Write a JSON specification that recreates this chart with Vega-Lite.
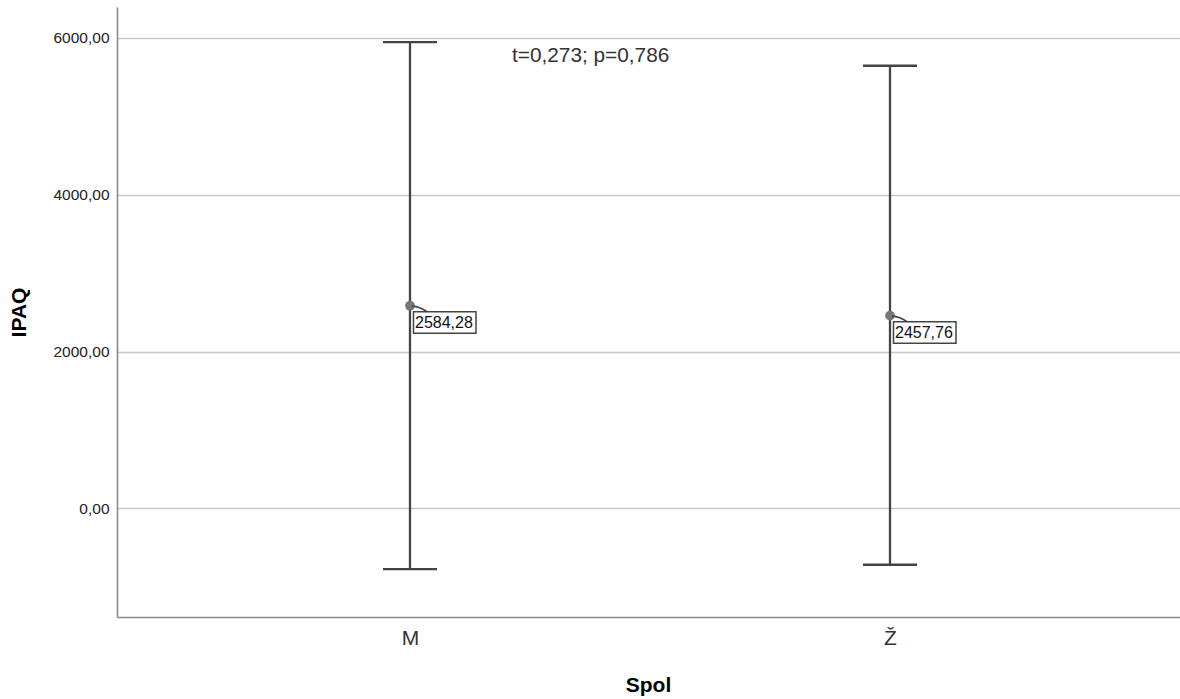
{
  "$schema": "https://vega.github.io/schema/vega-lite/v6.json",
  "width": 1066,
  "height": 610,
  "autosize": {"type": "none"},
  "padding": {"left": 117, "top": 7, "right": 0, "bottom": 82},
  "background": "white",
  "config": {
    "view": {"stroke": null},
    "font": "Arial",
    "axis": {"labelFont": "Arial", "titleFont": "Arial"}
  },
  "datasets": {
    "groups": [
      {"Spol": "M", "mean": 2584.28, "lower": -774, "upper": 5945, "label": "2584,28"},
      {"Spol": "Ž", "mean": 2457.76, "lower": -718, "upper": 5643, "label": "2457,76"}
    ],
    "note": [
      {"Spol": "M", "y": 5766, "text": "t=0,273; p=0,786"}
    ]
  },
  "data": {"name": "groups"},
  "encoding": {
    "x": {
      "field": "Spol",
      "type": "nominal",
      "sort": ["M", "Ž"],
      "scale": {"type": "point", "padding": 0.6104},
      "axis": {
        "title": "Spol",
        "titleX": 531,
        "labelAngle": 0,
        "ticks": false,
        "grid": false,
        "domainColor": "#888888",
        "domainWidth": 1.6,
        "labelFontSize": 21,
        "labelColor": "#333333",
        "labelPadding": 10,
        "titleFontSize": 21,
        "titleFontWeight": "bold",
        "titleColor": "#000000",
        "titlePadding": 26
      }
    }
  },
  "layer": [
    {
      "mark": {"type": "rule", "color": "#444444", "strokeWidth": 2.3},
      "encoding": {
        "y": {
          "field": "lower",
          "type": "quantitative",
          "scale": {"domain": [-1384, 6392], "nice": false, "zero": false},
          "axis": {
            "title": "IPAQ",
            "values": [0, 2000, 4000, 6000],
            "labelExpr": "replace(format(datum.value, '.2f'), '.', ',')",
            "ticks": false,
            "grid": true,
            "gridColor": "#c8c8c8",
            "gridWidth": 1.4,
            "domainColor": "#888888",
            "domainWidth": 1.6,
            "labelFontSize": 15.5,
            "labelColor": "#222222",
            "labelPadding": 8,
            "titleFontSize": 21,
            "titleFontWeight": "bold",
            "titleColor": "#000000",
            "titlePadding": 23
          }
        },
        "y2": {"field": "upper"}
      }
    },
    {
      "mark": {"type": "point", "shape": "M-1,0H1", "size": 2916, "filled": false, "stroke": "#444444", "strokeWidth": 2.3, "opacity": 1},
      "encoding": {"y": {"field": "upper", "type": "quantitative"}}
    },
    {
      "mark": {"type": "point", "shape": "M-1,0H1", "size": 2916, "filled": false, "stroke": "#444444", "strokeWidth": 2.3, "opacity": 1},
      "encoding": {"y": {"field": "lower", "type": "quantitative"}}
    },
    {
      "mark": {"type": "point", "shape": "circle", "size": 95, "filled": true, "fill": "#777777", "stroke": null, "opacity": 1},
      "encoding": {"y": {"field": "mean", "type": "quantitative"}}
    },
    {
      "mark": {"type": "point", "shape": "M0.02,0.005Q0.1,0.01 0.17,0.06", "size": 40000, "filled": false, "stroke": "#444444", "strokeWidth": 1.8, "opacity": 1},
      "encoding": {"y": {"field": "mean", "type": "quantitative"}}
    },
    {
      "mark": {"type": "point", "shape": "M0.035,0.06H0.66V0.275H0.035Z", "size": 40000, "filled": true, "fill": "white", "stroke": "#444444", "strokeWidth": 1.5, "opacity": 1},
      "encoding": {"y": {"field": "mean", "type": "quantitative"}}
    },
    {
      "mark": {"type": "text", "align": "left", "baseline": "middle", "dx": 5, "dy": 17.5, "fontSize": 16, "color": "#111111", "font": "Arial"},
      "encoding": {
        "y": {"field": "mean", "type": "quantitative"},
        "text": {"field": "label"}
      }
    },
    {
      "data": {"name": "note"},
      "mark": {"type": "text", "align": "left", "baseline": "middle", "dx": 102, "fontSize": 20.8, "color": "#333333", "font": "Arial"},
      "encoding": {
        "y": {"field": "y", "type": "quantitative"},
        "text": {"field": "text"}
      }
    }
  ]
}
